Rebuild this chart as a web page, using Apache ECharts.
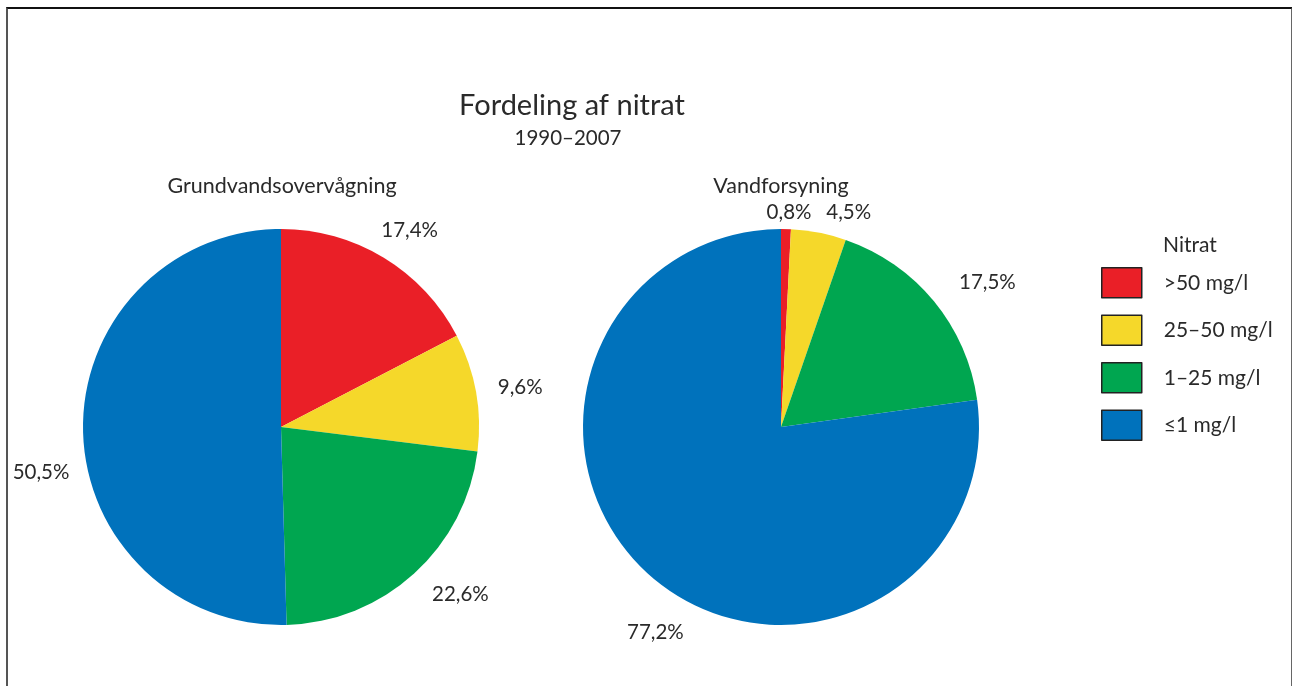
<!DOCTYPE html>
<html>
<head>
<meta charset="utf-8">
<script src="https://cdn.jsdelivr.net/npm/echarts@6/dist/echarts.min.js"></script>
<style>
  html, body { margin: 0; padding: 0; background: #fff; }
  #main { width: 1292px; height: 686px; }
  #frame {
    position: absolute; left: 6px; top: 7px; width: 1283px; height: 690px;
    border-top: 2px solid #111; border-left: 2px solid #555; border-right: 2px solid #666;
    pointer-events: none;
  }
</style>
</head>
<body>
<div id="main"></div>
<div id="frame"></div>
<script>
// nitrate classes
const categories = [">50 mg/l", "25–50 mg/l", "1–25 mg/l", "≤1 mg/l"];
const grundvand = [17.4, 9.6, 22.6, 50.5];
const vandforsyning = [0.8, 4.5, 17.5, 77.2];
const colors = ["#ea1f27", "#f5d82a", "#00a650", "#0072bc"];

// label nudges (px) so the percentages sit where the original put them
const nudgeLeft = [[4, 8], [3, 3], [18, -10], [0, 42]];
const nudgeRight = [[2, 25], [22, 21], [21, 8], [32, 24]];

const FONT = "Lato, 'Open Sans', sans-serif";
const TXT = "#2a2a2a";

function fmt(v) {
  return v.toFixed(1).replace(".", ",") + "%";
}

function toData(vals) {
  return vals.map(function (v, i) {
    return { name: categories[i], value: v, itemStyle: { color: colors[i] } };
  });
}

function pie(center, vals) {
  return {
    type: "pie",
    center: center,
    radius: [0, 198],
    startAngle: 90,
    clockwise: true,
    silent: true,
    label: { show: false },
    labelLine: { show: false },
    itemStyle: { borderWidth: 0 },
    data: toData(vals)
  };
}

// transparent ring outside the pie, only carries the labels
function labelRing(center, vals, nudge) {
  return {
    type: "pie",
    center: center,
    radius: [198, 276],
    startAngle: 90,
    clockwise: true,
    silent: true,
    itemStyle: { color: "rgba(0,0,0,0)", borderWidth: 0 },
    label: {
      show: true,
      position: "inside",
      color: TXT,
      fontFamily: FONT,
      fontSize: 20.5,
      formatter: function (p) { return fmt(p.value); }
    },
    labelLine: { show: false },
    labelLayout: function (p) {
      return { dx: nudge[p.dataIndex][0], dy: nudge[p.dataIndex][1] };
    },
    data: vals.map(function (v, i) { return { name: categories[i], value: v }; })
  };
}

let myChart = echarts.init(document.getElementById("main"));
let option = {
  backgroundColor: "#fff",
  animation: false,
  legend: {
    orient: "vertical",
    left: 1096,
    top: 262,
    itemWidth: 40,
    itemHeight: 30,
    itemGap: 16,
    icon: "rect",
    selectedMode: false,
    textStyle: { color: TXT, fontFamily: FONT, fontSize: 21, padding: [0, 0, 0, 17] },
    data: categories.map(function (c, i) {
      return { name: c, itemStyle: { color: colors[i], borderColor: "#222", borderWidth: 1.5 } };
    })
  },
  graphic: [
    { type: "text", x: 572, y: 106, style: { text: "Fordeling af nitrat", fill: TXT, font: "29px " + FONT, textAlign: "center", textVerticalAlign: "middle", align: "center", verticalAlign: "middle" } },
    { type: "text", x: 568, y: 138, style: { text: "1990–2007", fill: TXT, font: "20.5px " + FONT, textAlign: "center", textVerticalAlign: "middle", align: "center", verticalAlign: "middle" } },
    { type: "text", x: 282, y: 186, style: { text: "Grundvandsovervågning", fill: TXT, font: "21.5px " + FONT, textAlign: "center", textVerticalAlign: "middle", align: "center", verticalAlign: "middle" } },
    { type: "text", x: 781, y: 186, style: { text: "Vandforsyning", fill: TXT, font: "21.5px " + FONT, textAlign: "center", textVerticalAlign: "middle", align: "center", verticalAlign: "middle" } },
    { type: "text", x: 1163, y: 245, style: { text: "Nitrat", fill: TXT, font: "21px " + FONT, textAlign: "left", textVerticalAlign: "middle", align: "left", verticalAlign: "middle" } }
  ],
  series: [
    pie([281, 427], grundvand),
    pie([781, 427], vandforsyning),
    labelRing([281, 427], grundvand, nudgeLeft),
    labelRing([781, 427], vandforsyning, nudgeRight)
  ]
};
myChart.setOption(option);
</script>
</body>
</html>
